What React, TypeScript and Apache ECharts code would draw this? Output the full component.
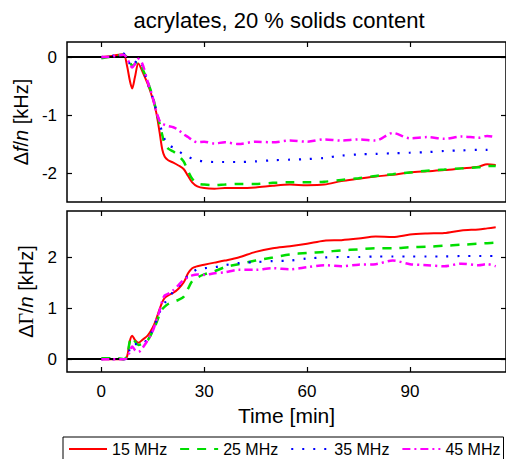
import React, { useEffect, useRef } from "react";
import * as echarts from "echarts";

const TITLE = "acrylates, 20 % solids content";
const SERIES_NAMES = ["15 MHz", "25 MHz", "35 MHz", "45 MHz"];
const COLORS = ["#ff0000", "#00dd00", "#0000ff", "#ff00ff"];
const X_TICKS = [0, 30, 60, 90];
const TOP_Y_TICKS = [-2, -1, 0];
const BOT_Y_TICKS = [0, 1, 2];

// time [min]
const T = [0, 3, 5, 6.5, 7.5, 8.3, 9, 9.8, 10.8, 12, 13.5, 15, 16, 17, 17.8, 18.5, 19.5, 21, 22.5, 24, 25.3, 26.5, 28, 30, 33, 36, 40, 45, 50, 55, 60, 65, 70, 75, 80, 85, 90, 95, 100, 105, 110, 112.5, 115];

// Δf/n [kHz]
const DF15 = [0, 0.02, 0.04, 0.05, -0.15, -0.4, -0.54, -0.35, -0.11, -0.25, -0.46, -0.72, -0.95, -1.3, -1.6, -1.72, -1.78, -1.82, -1.87, -1.93, -2.05, -2.16, -2.23, -2.26, -2.27, -2.26, -2.26, -2.25, -2.22, -2.2, -2.21, -2.2, -2.14, -2.1, -2.06, -2.03, -1.99, -1.97, -1.95, -1.92, -1.89, -1.85, -1.86];
const DF25 = [-0.02, 0.01, 0.03, 0.04, 0.0, -0.08, -0.15, -0.12, -0.08, -0.2, -0.42, -0.68, -0.92, -1.15, -1.35, -1.5, -1.58, -1.63, -1.7, -1.8, -1.97, -2.1, -2.18, -2.2, -2.21, -2.2, -2.19, -2.19, -2.17, -2.16, -2.16, -2.15, -2.12, -2.09, -2.05, -2.02, -1.99, -1.96, -1.94, -1.92, -1.9, -1.88, -1.88];
const DF35 = [0, 0.02, 0.04, 0.06, 0.0, -0.12, -0.17, -0.1, -0.04, -0.15, -0.45, -0.7, -0.92, -1.15, -1.3, -1.42, -1.52, -1.56, -1.62, -1.68, -1.72, -1.75, -1.78, -1.8, -1.81, -1.81, -1.81, -1.8, -1.78, -1.77, -1.76, -1.74, -1.7, -1.68, -1.67, -1.66, -1.65, -1.64, -1.62, -1.61, -1.6, -1.6, -1.59];
const DF45 = [0, 0.01, 0.03, 0.04, -0.02, -0.12, -0.18, -0.12, -0.03, -0.12, -0.42, -0.7, -0.93, -1.1, -1.15, -1.17, -1.19, -1.21, -1.26, -1.33, -1.38, -1.43, -1.47, -1.46, -1.49, -1.47, -1.5, -1.46, -1.47, -1.44, -1.46, -1.42, -1.44, -1.42, -1.44, -1.31, -1.4, -1.38, -1.41, -1.37, -1.39, -1.36, -1.38];

// ΔΓ/n [kHz]
const DG15 = [0, 0, 0, 0, 0.05, 0.35, 0.46, 0.38, 0.32, 0.38, 0.46, 0.62, 0.78, 0.98, 1.12, 1.2, 1.25, 1.3, 1.38, 1.5, 1.68, 1.78, 1.82, 1.85, 1.89, 1.93, 1.99, 2.1, 2.17, 2.21, 2.26, 2.32, 2.33, 2.36, 2.4, 2.39, 2.44, 2.46, 2.47, 2.52, 2.54, 2.56, 2.58];
const DG25 = [0.02, 0.02, 0.02, 0.0, 0.05, 0.35, 0.43, 0.35, 0.28, 0.3, 0.37, 0.55, 0.7, 0.88, 0.98, 1.03, 1.08, 1.12, 1.16, 1.22, 1.38, 1.53, 1.6, 1.66, 1.72, 1.8, 1.86, 1.93, 1.99, 2.05, 2.08, 2.1, 2.13, 2.15, 2.17, 2.17, 2.19, 2.2, 2.22, 2.24, 2.26, 2.27, 2.28];
const DG35 = [0, 0, 0, 0, 0.02, 0.2, 0.3, 0.3, 0.28, 0.3, 0.4, 0.58, 0.75, 0.92, 1.02, 1.1, 1.2, 1.32, 1.42, 1.55, 1.63, 1.7, 1.76, 1.78, 1.8, 1.84, 1.88, 1.9, 1.92, 1.93, 1.97, 1.99, 2.0, 2.0, 2.01, 2.01, 2.01, 2.01, 2.01, 2.02, 2.02, 2.02, 2.02];
const DG45 = [0, 0, 0, 0, 0.02, 0.15, 0.25, 0.18, 0.14, 0.22, 0.37, 0.55, 0.75, 0.95, 1.15, 1.25, 1.28, 1.35, 1.45, 1.55, 1.6, 1.64, 1.66, 1.65, 1.68, 1.7, 1.75, 1.75, 1.78, 1.76, 1.8, 1.84, 1.82, 1.85, 1.86, 1.93, 1.86, 1.84, 1.82, 1.87, 1.84, 1.86, 1.82];

const FONT = "'Liberation Sans', Arial, Helvetica, sans-serif";
const LINE_TYPES: any[] = ["solid", [9, 8], [2, 9], [8, 4, 2, 4]];
const LINE_WIDTHS = [2, 2.5, 2.2, 2.5];

function pairs(vals: number[]) {
  return T.map((t, i) => [t, vals[i]]);
}

const tickStyle = { show: true, inside: true, length: 5, lineStyle: { color: "#000", width: 1.2 } };

function xAxis(gridIndex: number, position: string, labels: boolean, extra: any = {}) {
  return {
    type: "value",
    gridIndex,
    position,
    min: -10,
    max: 118,
    axisLine: { show: false, onZero: false },
    axisTick: { ...tickStyle, customValues: X_TICKS },
    axisLabel: labels
      ? { show: true, customValues: X_TICKS, fontSize: 17, color: "#000", fontFamily: FONT, margin: 11 }
      : { show: false },
    splitLine: { show: false },
    ...extra,
  };
}

function yAxis(gridIndex: number, position: string, min: number, max: number, ticks: number[], labels: boolean, extra: any = {}) {
  return {
    type: "value",
    gridIndex,
    position,
    min,
    max,
    axisLine: { show: false, onZero: false },
    axisTick: { ...tickStyle, customValues: ticks },
    axisLabel: labels
      ? { show: true, customValues: ticks, fontSize: 17, color: "#000", fontFamily: FONT, margin: 10 }
      : { show: false },
    splitLine: { show: false },
    ...extra,
  };
}

const nameRich = {
  n: { fontSize: 20, fontFamily: FONT, color: "#000" },
  i: { fontSize: 20, fontFamily: FONT, fontStyle: "italic", color: "#000" },
  g: { fontSize: 20, fontFamily: "'Liberation Serif', 'DejaVu Serif', serif", color: "#000" },
};

export default function App() {
  const ref = useRef<HTMLDivElement>(null);
  useEffect(() => {
    if (!ref.current) return;
    const chart = echarts.init(ref.current, null, { renderer: "svg" });
    const topData = [DF15, DF25, DF35, DF45];
    const botData = [DG15, DG25, DG35, DG45];
    const zeroLine = {
      silent: true,
      symbol: "none",
      label: { show: false },
      lineStyle: { color: "#000", width: 2, type: "solid" },
      data: [{ yAxis: 0 }],
    };
    const mkSeries = (data: number[][], panel: number) =>
      data.map((vals, k) => ({
        name: SERIES_NAMES[k],
        type: "line",
        xAxisIndex: panel * 2,
        yAxisIndex: panel * 2,
        data: pairs(vals),
        showSymbol: false,
        symbol: "none",
        smooth: 0.3,
        color: COLORS[k],
        lineStyle: { color: COLORS[k], width: LINE_WIDTHS[k], type: LINE_TYPES[k] },
        markLine: k === 0 ? zeroLine : undefined,
        z: 2 + k,
      }));
    const option: any = {
      animation: false,
      graphic: [
        {
          type: "text",
          x: 279,
          y: 20,
          style: {
            text: TITLE,
            fontSize: 22,
            fontFamily: FONT,
            fill: "#000",
            align: "center",
            verticalAlign: "middle",
            textAlign: "center",
            textVerticalAlign: "middle",
          },
        },
      ],
      legend: {
        data: SERIES_NAMES,
        left: 63,
        top: 437,
        orient: "horizontal",
        padding: [4, 3, 4, 5],
        itemGap: 12,
        itemWidth: 38,
        itemHeight: 12,
        borderColor: "#000",
        borderWidth: 1,
        borderRadius: 0,
        itemStyle: { opacity: 0 },
        textStyle: { fontSize: 16, color: "#000", fontFamily: FONT },
      },
      grid: [
        { left: 67, top: 42, width: 440, height: 160, show: true, borderColor: "#000", borderWidth: 1.5, backgroundColor: "transparent" },
        { left: 67, top: 211, width: 440, height: 161, show: true, borderColor: "#000", borderWidth: 1.5, backgroundColor: "transparent" },
      ],
      xAxis: [
        xAxis(0, "bottom", false),
        xAxis(0, "top", false),
        xAxis(1, "bottom", true, {
          name: "Time [min]",
          nameLocation: "middle",
          nameGap: 33,
          nameTextStyle: { fontSize: 21, color: "#000", fontFamily: FONT },
        }),
        xAxis(1, "top", false),
      ],
      yAxis: [
        yAxis(0, "left", -2.5, 0.26, TOP_Y_TICKS, true, {
          name: "{n|Δ}{i|f}{n|/}{i|n}{n| [kHz]}",
          nameLocation: "middle",
          nameRotate: 90,
          nameGap: 35,
          nameTextStyle: { rich: nameRich },
        }),
        yAxis(0, "right", -2.5, 0.26, TOP_Y_TICKS, false),
        yAxis(1, "left", -0.25, 2.9, BOT_Y_TICKS, true, {
          name: "{n|Δ}{g|Γ}{n|/}{i|n}{n| [kHz]}",
          nameLocation: "middle",
          nameRotate: 90,
          nameGap: 31,
          nameTextStyle: { rich: nameRich },
        }),
        yAxis(1, "right", -0.25, 2.9, BOT_Y_TICKS, false),
      ],
      series: [...mkSeries(topData, 0), ...mkSeries(botData, 1)],
    };
    chart.setOption(option);
    return () => chart.dispose();
  }, []);
  return (
    <div
      ref={ref}
      style={{ position: "fixed", left: 0, top: 0, width: 506, height: 459, background: "#fff" }}
    />
  );
}
